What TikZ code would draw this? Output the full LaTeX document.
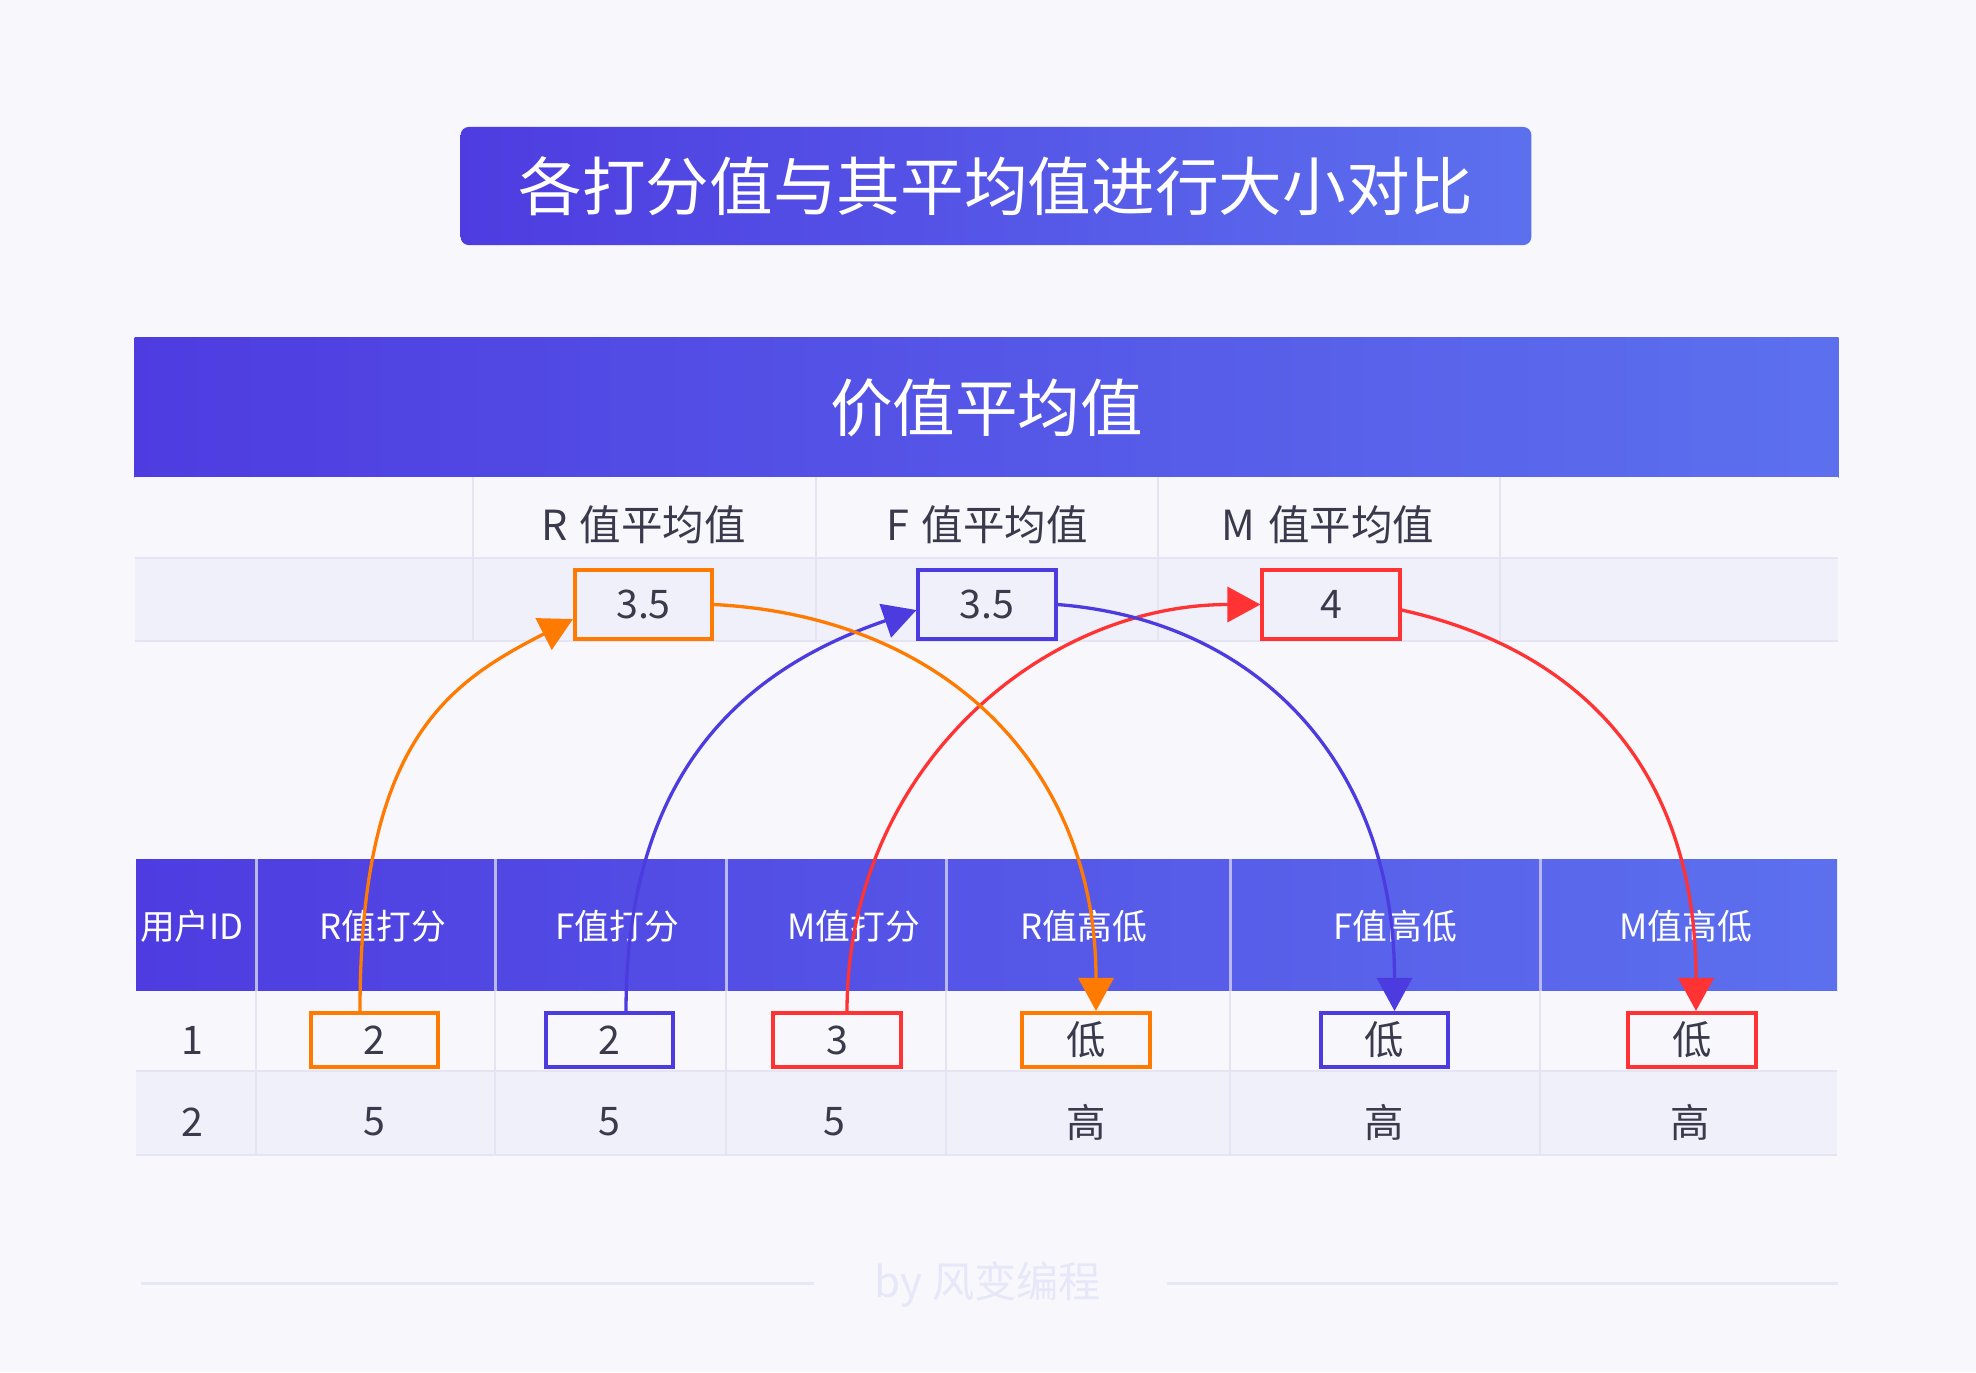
\documentclass[tikz,border=0pt]{standalone}
\usepackage{fontspec}
\setmainfont{Noto Sans CJK SC}
\usepackage{tikz}
\usetikzlibrary{arrows.meta}
\usetikzlibrary{positioning}
\usetikzlibrary{calc}

\definecolor{pagebg}{RGB}{247,247,252}
\definecolor{rowbg}{RGB}{240,240,250}
\definecolor{gridline}{RGB}{228,228,242}
\definecolor{bandleft}{RGB}{78,60,224}
\definecolor{bandright}{RGB}{92,112,238}
\definecolor{bandsep}{RGB}{186,184,240}
\definecolor{txt}{RGB}{58,58,76}
\definecolor{rorange}{RGB}{255,122,0}
\definecolor{fblue}{RGB}{76,60,224}
\definecolor{mred}{RGB}{255,51,51}
\definecolor{footcol}{RGB}{230,231,248}

\begin{document}
\begin{tikzpicture}[x=0.01cm, y=-0.01cm,
    band/.style={left color=bandleft, right color=bandright, draw=none, text=white},
    colhead/.style={font=\fontsize{11.8pt}{13pt}\selectfont, text=txt},
    bandhead/.style={font=\fontsize{9.9pt}{12pt}\selectfont, text=white},
    val/.style={font=\fontsize{11.2pt}{13pt}\selectfont, text=txt},
    avgbox/.style={val, draw, line width=0.04cm, fill=rowbg, minimum width=1.37cm, minimum height=0.69cm, inner sep=0pt},
    scorebox/.style={val, draw, line width=0.04cm, fill=pagebg, minimum width=1.27cm, minimum height=0.54cm, inner sep=0pt},
    link/.style={line width=0.033cm, -{Triangle[length=3.3mm, width=3.5mm]}}]

  \path[use as bounding box, fill=pagebg] (0,0) rectangle (1976,1372);

  % title
  \node[band, rounded corners=0.08cm, minimum width=10.7cm, minimum height=1.18cm,
        font=\fontsize{18.1pt}{20pt}\selectfont] (title) at (996,186) {各打分值与其平均值进行大小对比};

  % table of mean values
  \node[band, minimum width=17.03cm, minimum height=1.39cm,
        font=\fontsize{17.8pt}{20pt}\selectfont] (avgband) at (986.5,407.5) {价值平均值};
  \fill[pagebg] (135,477) rectangle (1838,558);
  \fill[rowbg] (135,558) rectangle (1838,641);
  \draw[gridline, line width=0.025cm] (135,558) -- (1838,558);
  \draw[gridline, line width=0.025cm] (135,641) -- (1838,641);
  \foreach \x in {473,816,1158,1500}
    \draw[gridline, line width=0.02cm] (\x,477) -- (\x,641);

  \node[colhead] (rhead) at (643.5,525) {R\hspace{0.3em}值平均值};
  \node[colhead] (fhead) at (987,525) {F\hspace{0.3em}值平均值};
  \node[colhead] (mhead) at (1328,525) {M\hspace{0.3em}值平均值};

  \node[avgbox, draw=rorange] (ravg) at (643.5,604.5) {3.5};
  \node[avgbox, draw=fblue] (favg) at (987,604.5) {3.5};
  \node[avgbox, draw=mred] (mavg) at (1331,604.5) {4};

  % table of scores
  \shade[left color=bandleft, right color=bandright] (136,859) rectangle (1837,991);
  \fill[pagebg] (136,991) rectangle (1837,1071);
  \fill[rowbg] (136,1071) rectangle (1837,1155);
  \draw[gridline, line width=0.025cm] (136,1071) -- (1837,1071);
  \draw[gridline, line width=0.025cm] (136,1155) -- (1837,1155);
  \foreach \x in {256,495,726,946,1230,1540} {
    \draw[bandsep, line width=0.03cm] (\x,859) -- (\x,991);
    \draw[gridline, line width=0.02cm] (\x,991) -- (\x,1155);
  }

  \foreach \x/\t [count=\i] in {192/用户ID, 383/R值打分, 617/F值打分, 854/M值打分,
                                 1084/R值高低, 1395/F值高低, 1686/M值高低}
    \node[bandhead] (head\i) at (\x,926) {\t};

  \node[val] (first1) at (192,1040) {1};
  \node[scorebox, draw=rorange] (rscore) at (374.5,1040) {2};
  \node[scorebox, draw=fblue] (fscore) at (609.5,1040) {2};
  \node[scorebox, draw=mred] (mscore) at (837,1040) {3};
  \node[scorebox, draw=rorange] (rlevel) at (1086,1040) {低};
  \node[scorebox, draw=fblue] (flevel) at (1384.5,1040) {低};
  \node[scorebox, draw=mred] (mlevel) at (1692,1040) {低};

  \foreach \x/\t [count=\i] in {192/2, 374/5, 609/5, 834/5, 1086/高, 1384/高, 1690/高}
    \node[val] (second\i) at (\x,1122) {\t};

  % score -> mean
  \draw[link, rorange] ([xshift=-0.145cm]rscore.north) .. controls +(0,-270) and +(-125,64) .. ([yshift=-0.145cm]ravg.west);
  \draw[link, fblue] ([xshift=0.165cm]fscore.north) .. controls +(0,-251) and +(-160,55) .. ([yshift=-0.055cm]favg.west);
  \draw[link, mred] ([xshift=0.1cm]mscore.north) .. controls +(0,-240) and +(-220,0) .. (mavg.west);

  % mean -> level
  \draw[link, rorange] (ravg.east) .. controls +(230,12) and +(0,-245) .. ([xshift=0.1cm]rlevel.north);
  \draw[link, fblue] (favg.east) .. controls +(203,16) and +(0,-244) .. ([xshift=0.1cm]flevel.north);
  \draw[link, mred] ([yshift=-0.055cm]mavg.east) .. controls +(180,40) and +(0,-240) .. ([xshift=0.04cm]mlevel.north);

  % footer
  \node[font=\fontsize{12pt}{14pt}\selectfont, text=footcol] (credit) at (988,1284) {by 风变编程};
  \draw[footcol, line width=0.03cm] (141,1283) -- (814,1283);
  \draw[footcol, line width=0.03cm] (1167,1283) -- (1838,1283);

\end{tikzpicture}
\end{document}
